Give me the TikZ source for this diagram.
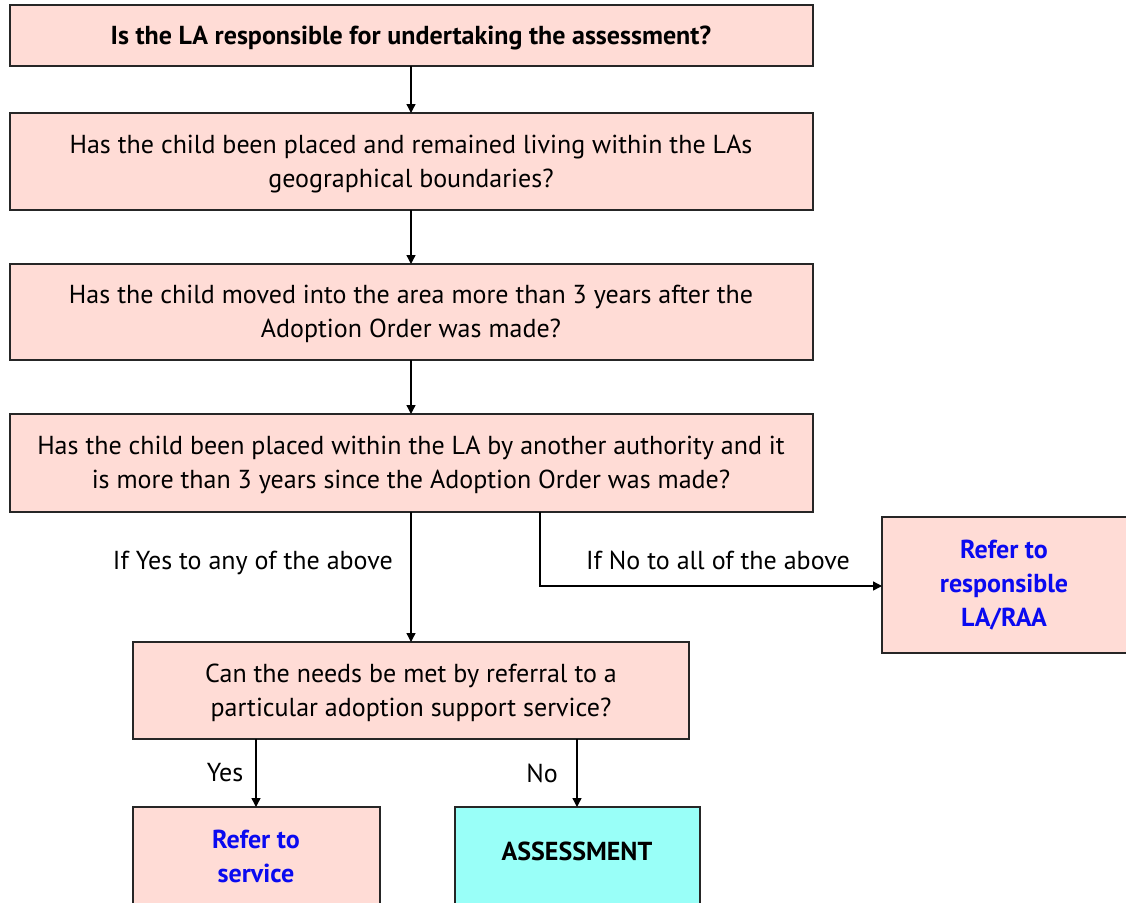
\documentclass[tikz,border=0pt]{standalone}
\usepackage{fontspec}
\setmainfont{PT Sans}
\usetikzlibrary{arrows.meta}
\definecolor{boxpink}{HTML}{FFDCD6}
\definecolor{boxcyan}{HTML}{99FFF8}
\definecolor{linkblue}{HTML}{0A0AF0}
\begin{document}
\begin{tikzpicture}[x=1pt,y=-1pt,
  qbox/.style={draw=black!85,line width=1.4pt,fill=boxpink,inner sep=0pt},
  abox/.style={draw=black!85,line width=1.4pt,fill=boxcyan,inner sep=0pt},
  txt/.style={font=\fontsize{26}{34}\selectfont,align=center,inner sep=0pt},
  btxt/.style={txt,font=\fontsize{26}{34}\selectfont\bfseries},
  flow/.style={line width=1.4pt,-{Triangle[length=9pt,width=9pt]}}]
\useasboundingbox (0,0) rectangle (1126,902);
% question boxes
\draw[qbox] (10,5) rectangle (813,66);
\draw[qbox] (10,113) rectangle (813,210);
\draw[qbox] (10,264) rectangle (813,360);
\draw[qbox] (10,414) rectangle (813,512);
\draw[qbox] (133,642) rectangle (689,739);
\draw[qbox] (882,517) rectangle (1130,653);
\draw[qbox] (133,807) rectangle (380,910);
\draw[abox] (455,807) rectangle (700,910);
% anchor points of the boxes
\coordinate (q1b) at (411,66);
\coordinate (q2t) at (411,113);
\coordinate (q2b) at (411,210);
\coordinate (q3t) at (411,264);
\coordinate (q3b) at (411,360);
\coordinate (q4t) at (411,414);
\coordinate (q4b) at (411,512);
\coordinate (q4r) at (540,512);
\coordinate (q5t) at (411,642);
\coordinate (q5l) at (256,739);
\coordinate (q5r) at (577,739);
\coordinate (rl) at (882,586);
\coordinate (st) at (256,807);
\coordinate (at) at (577,807);
% texts
\node[btxt] (t1) at (411,38) {Is the LA responsible for undertaking the assessment?};
\node[txt] (t2) at (411,164) {Has the child been placed and remained living within the LAs\\geographical boundaries?};
\node[txt] (t3) at (411,314) {Has the child moved into the area more than 3 years after the\\Adoption Order was made?};
\node[txt] (t4) at (411,465) {Has the child been placed within the LA by another authority and it\\is more than 3 years since the Adoption Order was made?};
\node[txt] (t5) at (411,693) {Can the needs be met by referral to a\\particular adoption support service?};
\node[btxt,text=linkblue] (tr) at (1004,585) {Refer to\\responsible\\LA/RAA};
\node[btxt,text=linkblue] (ts) at (256,856) {Refer to\\service};
\node[btxt] (ta) at (577,851) {ASSESSMENT};
% connectors
\draw[flow] (q1b) -- (q2t);
\draw[flow] (q2b) -- (q3t);
\draw[flow] (q3b) -- (q4t);
\draw[flow] (q4b) -- (q5t);
\draw[flow] (q4r) |- (rl);
\draw[flow] (q5l) -- (st);
\draw[flow] (q5r) -- (at);
% connector labels
\node[txt,anchor=east] (ly) at (393,563) {If Yes to any of the above};
\node[txt] (ln) at (718,560) {If No to all of the above};
\node[txt] (lyes) at (225,773) {Yes};
\node[txt] (lno) at (542,773) {No};
\end{tikzpicture}
\end{document}
